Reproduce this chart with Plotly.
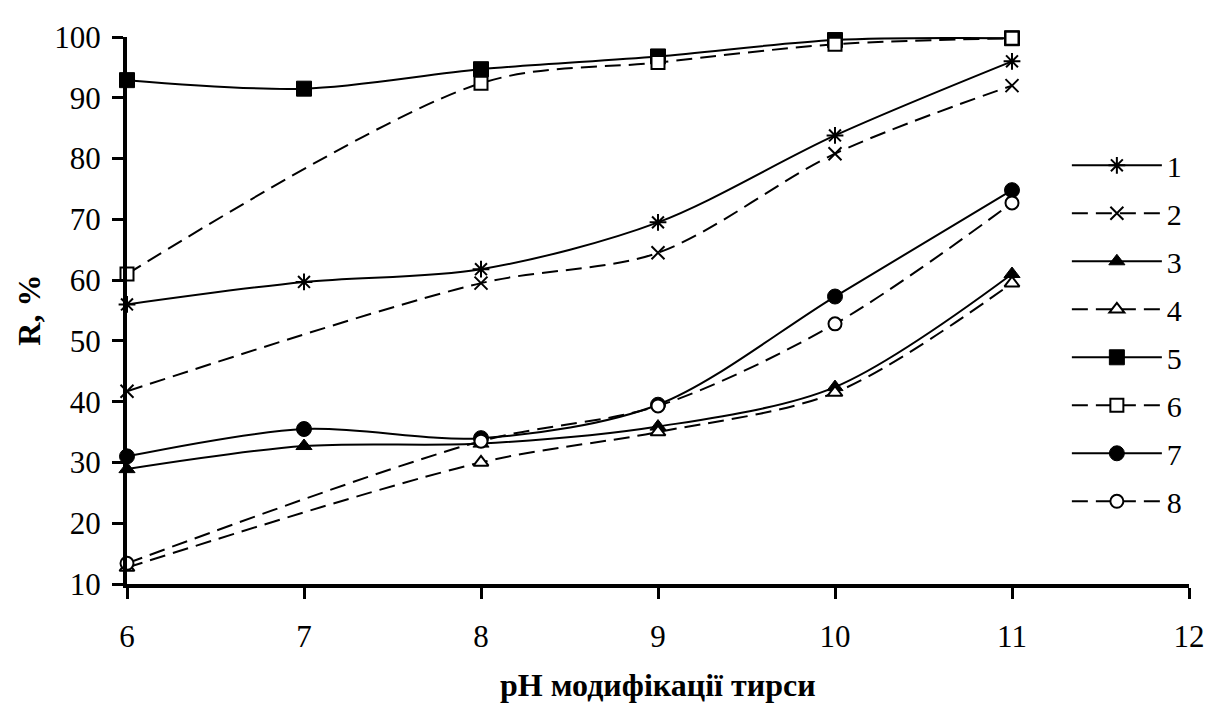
import plotly.graph_objects as go

# ---- data ----
ph_full = [6, 7, 8, 9, 10, 11]
ph_part = [6, 8, 9, 10, 11]

s1 = [56.0, 59.7, 61.8, 69.5, 83.8, 96.0]
s2 = [41.7, 59.5, 64.5, 80.8, 92.0]
s3 = [28.9, 32.7, 33.1, 35.9, 42.4, 61.0]
s4 = [12.7, 30.0, 35.0, 41.5, 59.5]
s5 = [92.9, 91.5, 94.7, 96.8, 99.5, 99.8]
s6 = [61.0, 92.4, 95.8, 98.8, 99.8]
s7 = [31.0, 35.5, 34.0, 39.5, 57.3, 74.8]
s8 = [13.4, 33.5, 39.3, 52.8, 72.7]

names = ["1", "2", "3", "4", "5", "6", "7", "8"]
x_ticks = [6, 7, 8, 9, 10, 11, 12]
y_ticks = [10, 20, 30, 40, 50, 60, 70, 80, 90, 100]
x_title = "pH модифікації тирси"
y_title = "R, %"

FONT = "Liberation Serif"
DASH = "16px,8px"

series = [
    (ph_full, s1, "solid", dict(symbol="asterisk-open", size=14, color="black", line=dict(color="black", width=2))),
    (ph_part, s2, DASH, dict(symbol="x-thin-open", size=13, color="black", line=dict(color="black", width=2))),
    (ph_full, s3, "solid", dict(symbol="triangle-up", size=14, color="black", line=dict(color="black", width=1))),
    (ph_part, s4, DASH, dict(symbol="triangle-up", size=13, color="white", line=dict(color="black", width=2))),
    (ph_full, s5, "solid", dict(symbol="square", size=15, color="black", line=dict(color="black", width=1))),
    (ph_part, s6, DASH, dict(symbol="square", size=13, color="white", line=dict(color="black", width=2))),
    (ph_full, s7, "solid", dict(symbol="circle", size=15, color="black", line=dict(color="black", width=1))),
    (ph_part, s8, DASH, dict(symbol="circle", size=13, color="white", line=dict(color="black", width=2))),
]

fig = go.Figure()
for i, (xs, ys, dash, mk) in enumerate(series):
    fig.add_trace(go.Scatter(
        x=xs, y=ys, name=names[i], mode="lines+markers",
        line=dict(color="black", width=2, dash=dash, shape="spline", smoothing=0.9),
        marker=mk, cliponaxis=False, legendgroup=names[i],
    ))

axis_common = dict(
    showline=True, linewidth=4, linecolor="black", mirror=False,
    ticks="outside", ticklen=11, tickwidth=3, tickcolor="black",
    showgrid=False, zeroline=False,
    tickfont=dict(family=FONT, size=31, color="black"),
)

fig.update_layout(
    width=1209, height=696,
    margin=dict(l=119, r=18, t=18, b=120),
    paper_bgcolor="white", plot_bgcolor="white",
    xaxis=dict(range=[6, 12], tickmode="array", tickvals=x_ticks, ticklabelstandoff=11,
               **axis_common),
    yaxis=dict(range=[10, 100], tickmode="array", tickvals=y_ticks, ticklabelstandoff=5,
               **axis_common),
    legend=dict(x=0.885, y=0.813, xanchor="left", yanchor="top",
                font=dict(family=FONT, size=30, color="black"),
                bgcolor="rgba(0,0,0,0)", itemwidth=90, tracegroupgap=6),
    showlegend=True,
)

fig.add_annotation(x=0.5, y=-0.185, xref="paper", yref="paper", xanchor="center", yanchor="middle",
                   text=x_title, showarrow=False,
                   font=dict(family=FONT, size=32, color="black", weight="bold"))
fig.add_annotation(x=-0.093, y=0.5, xref="paper", yref="paper", xanchor="center", yanchor="middle",
                   text=y_title, textangle=-90, showarrow=False, borderpad=0,
                   font=dict(family=FONT, size=32, color="black", weight="bold"))

fig.write_html("out.html")
